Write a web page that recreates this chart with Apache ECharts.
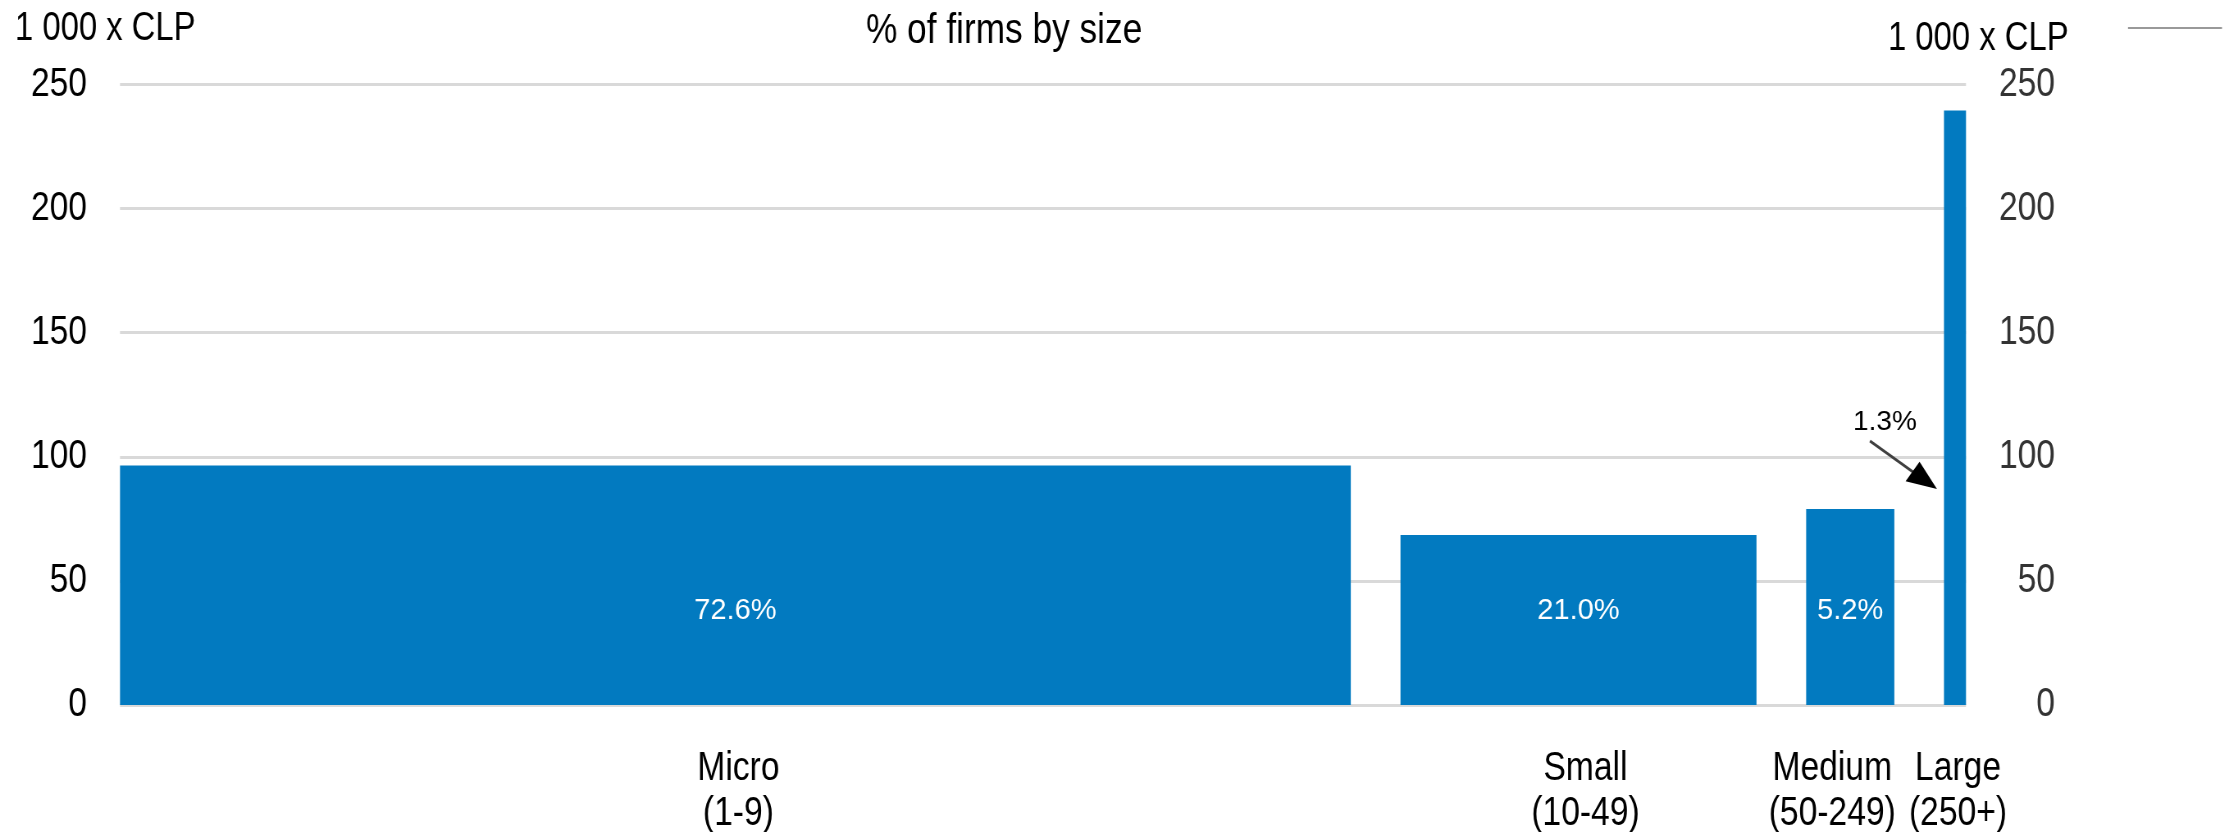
<!DOCTYPE html>
<html>
<head>
<meta charset="utf-8">
<script src="https://cdn.jsdelivr.net/npm/echarts@6/dist/echarts.min.js"></script>
<style>
html,body{margin:0;padding:0;background:#fff;overflow:hidden}
#c{width:2718px;height:832px;transform:scaleX(0.820088);transform-origin:0 0}
</style>
</head>
<body>
<div id="c"></div>
<script>
// ---- data ----
const categories = ['Micro\n(1-9)', 'Small\n(10-49)', 'Medium\n(50-249)', 'Large\n(250+)'];
const shareOfFirms = [72.6, 21.0, 5.2, 1.3];          // % of firms (bar width)
const avgValue = [96.5, 68.5, 79, 239.5];             // 1 000 x CLP (bar height)
const shareLabels = ['72.6%', '21.0%', '5.2%', ''];
const annotationText = '1.3%';
const annotationIndex = 3;
const annotationY = 87;
const yTicks = { min: 0, max: 250, interval: 50 };
const chartTitle = '% of firms by size';
const axisUnit = '1 000 x CLP';

// ---- layout ----
// The chart is drawn on a wider canvas and squeezed horizontally (narrow-font look).
const S = 2229 / 2718;
const X = px => px / S;            // screen px -> canvas px (horizontal)
const GAP = 2.93;
const FONT = "'Liberation Sans',Arial,sans-serif";
const BLUE = '#027AC0';
const catDx = [3, 7, -18, 3];

let acc = 0;
const barData = shareOfFirms.map((w, i) => {
  const start = acc;
  acc += w + (i < shareOfFirms.length - 1 ? GAP : 0);
  return [start, start + w, avgValue[i], i];
});
const xMax = acc;

const chart = echarts.init(document.getElementById('c'));

function renderItem(params, api) {
  const x0 = api.value(0), x1 = api.value(1), v = api.value(2), idx = api.value(3);
  const pTop = api.coord([x0, v]);
  const pBot = api.coord([x1, 0]);
  const cx = (pTop[0] + pBot[0]) / 2;
  const children = [{
    type: 'rect',
    shape: { x: pTop[0], y: pTop[1], width: pBot[0] - pTop[0], height: pBot[1] - pTop[1] },
    style: { fill: BLUE }
  }];
  if (shareLabels[idx]) {
    children.push({
      type: 'text', x: cx, y: pBot[1] - 94, scaleX: 1 / S,
      style: { text: shareLabels[idx], x: 0, y: 0, align: 'center', verticalAlign: 'middle',
        fill: '#fff', font: '29px ' + FONT }
    });
  }
  children.push({
    type: 'text',
    style: { text: categories[idx], x: cx + X(catDx[idx]), y: pBot[1] + 41, align: 'center', verticalAlign: 'top',
      fill: '#000', font: '41px ' + FONT, lineHeight: 45 }
  });
  if (idx === annotationIndex) {
    const tip = api.coord([x0, annotationY]);
    // geometry in screen space, converted to canvas x at the end
    const tx = tip[0] * S - 7, ty = tip[1];
    const sx = tx - 67, sy = ty - 48;
    const len = Math.hypot(tx - sx, ty - sy);
    const ux = (tx - sx) / len, uy = (ty - sy) / len;
    const hl = 30, hw = 12;
    const bx = tx - ux * hl, by = ty - uy * hl;
    children.push({
      type: 'line',
      shape: { x1: X(sx), y1: sy, x2: X(bx + ux * 4), y2: by + uy * 4 },
      style: { stroke: '#404040', lineWidth: 3 }
    });
    children.push({
      type: 'polygon',
      shape: { points: [[X(tx), ty], [X(bx - uy * hw), by + ux * hw], [X(bx + uy * hw), by - ux * hw]] },
      style: { fill: '#000' }
    });
    children.push({
      type: 'text', x: X(sx + 15), y: sy - 19, scaleX: 1 / S,
      style: { text: annotationText, x: 0, y: 0, align: 'center', verticalAlign: 'middle',
        fill: '#000', font: '28px ' + FONT }
    });
  }
  return { type: 'group', children: children };
}

chart.setOption({
  animation: false,
  backgroundColor: '#fff',
  title: {
    text: chartTitle, left: X(1000), top: 5, textAlign: 'center',
    textStyle: { fontFamily: FONT, fontSize: 43, fontWeight: 'normal', color: '#000' }
  },
  grid: { left: X(120), right: X(263), top: 84.5, bottom: 127 },
  xAxis: {
    type: 'value', min: 0, max: xMax,
    axisLine: { show: false }, axisTick: { show: false }, axisLabel: { show: false }, splitLine: { show: false }
  },
  yAxis: [{
    type: 'value', min: yTicks.min, max: yTicks.max, interval: yTicks.interval, position: 'left',
    axisLine: { show: false }, axisTick: { show: false },
    axisLabel: { fontFamily: FONT, fontSize: 41, color: '#000', margin: X(33), padding: [0, 0, 10, 0] },
    splitLine: { lineStyle: { color: '#D9D9D9', width: 3 } }
  }, {
    type: 'value', min: yTicks.min, max: yTicks.max, interval: yTicks.interval, position: 'right',
    axisLine: { show: false }, axisTick: { show: false },
    axisLabel: { fontFamily: FONT, fontSize: 41, color: '#333', margin: X(89), align: 'right', padding: [0, 0, 10, 0] },
    splitLine: { show: false }
  }],
  graphic: [
    { type: 'text', left: X(15), top: 9, style: { text: axisUnit, font: '40px ' + FONT, fill: '#000' } },
    { type: 'text', left: X(1888), top: 19, style: { text: axisUnit, font: '40px ' + FONT, fill: '#000' } },
    { type: 'line', shape: { x1: X(2128), y1: 28, x2: X(2222), y2: 28 }, style: { stroke: '#999', lineWidth: 2 } }
  ],
  series: [{
    type: 'custom',
    renderItem: renderItem,
    clip: false,
    encode: { x: [0, 1], y: 2 },
    data: barData
  }]
});
</script>
</body>
</html>
